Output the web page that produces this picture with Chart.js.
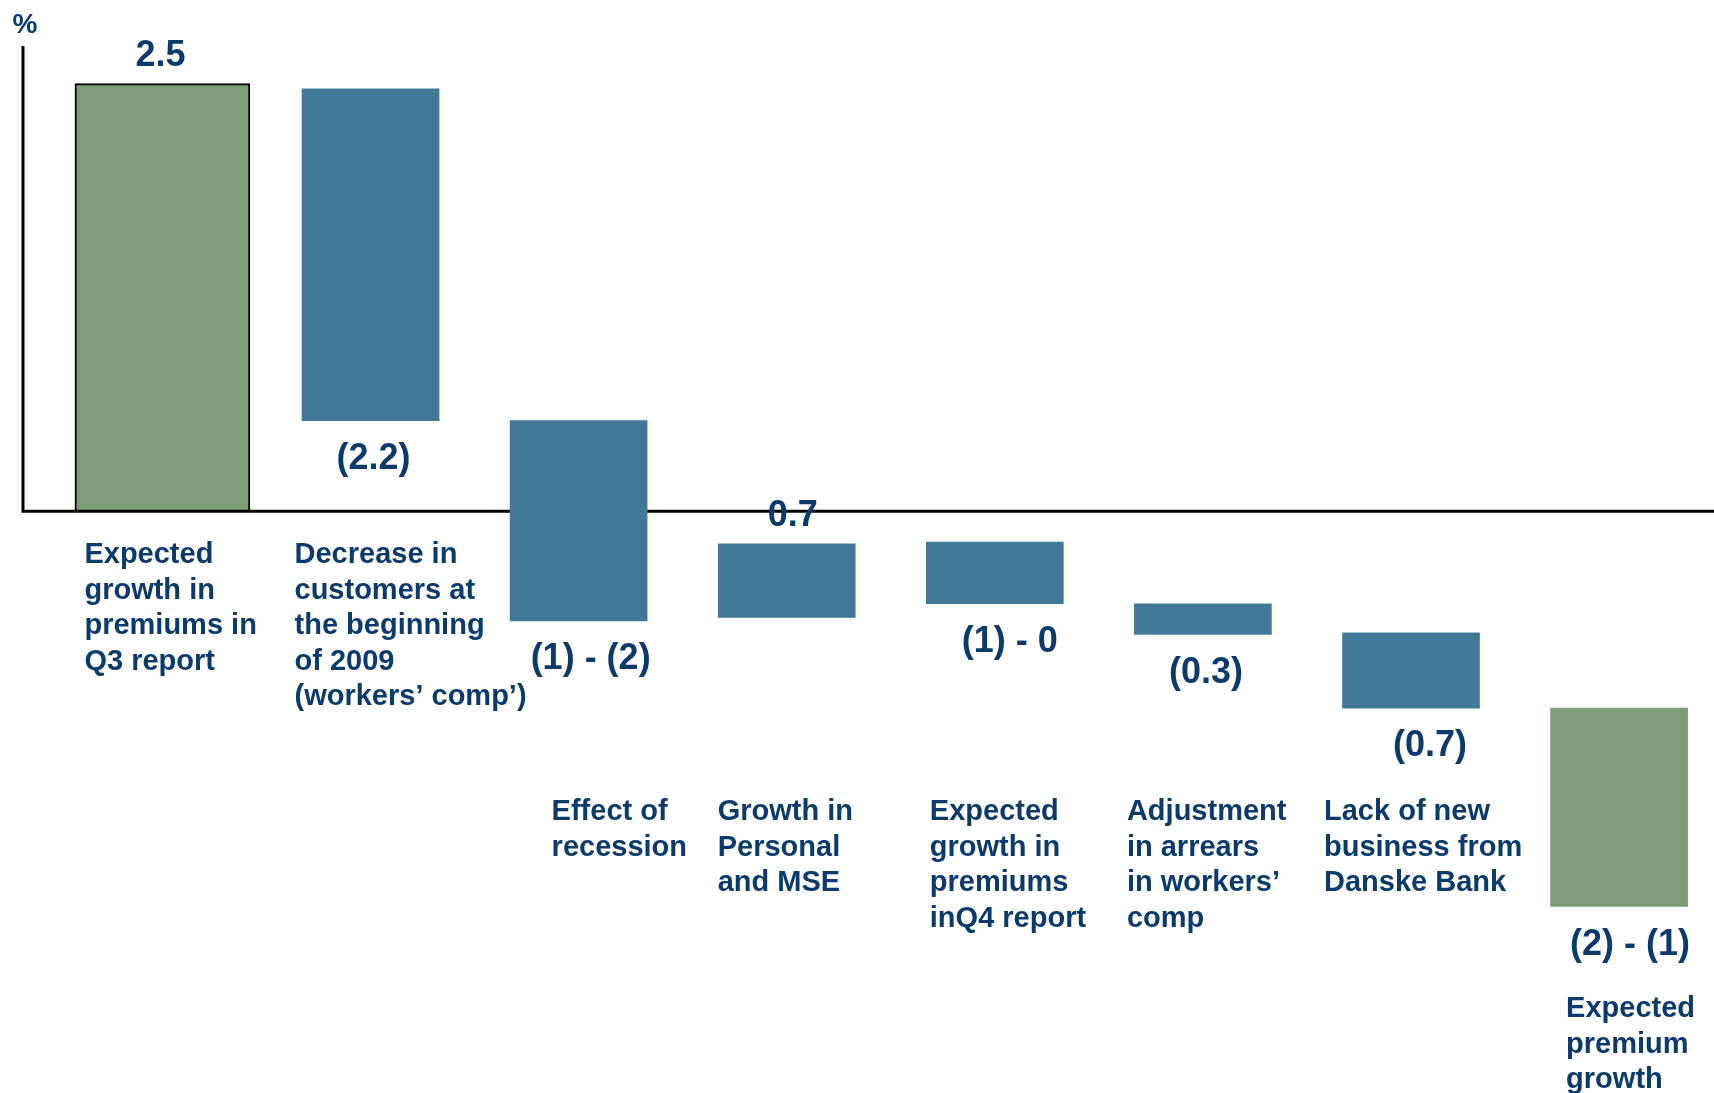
<!DOCTYPE html>
<html>
<head>
<meta charset="utf-8">
<script src="https://cdn.jsdelivr.net/npm/chart.js@4.4.1/dist/chart.umd.min.js"></script>
<style>
    html, body { margin: 0; padding: 0; background: #ffffff; }
    #wrap { position: relative; width: 1714px; height: 1093px; }
</style>
</head>
<body>
<div id="wrap"><canvas id="premieChart"></canvas></div>
<script>
// category texts, wrapped like on the slide
const categories = [
    ["Expected", "growth in", "premiums in", "Q3 report"],
    ["Decrease in", "customers at", "the beginning", "of 2009", "(workers’ comp’)"],
    ["Effect of", "recession"],
    ["Growth in", "Personal", "and MSE"],
    ["Expected", "growth in", "premiums", "inQ4 report"],
    ["Adjustment", "in arrears", "in workers’", "comp"],
    ["Lack of new", "business from", "Danske Bank"],
    ["Expected", "premium", "growth"]
];

// value labels as printed on the bars
const valueLabels = ["2.5", "(2.2)", "(1) - (2)", "0.7", "(1) - 0", "(0.3)", "(0.7)", "(2) - (1)"];

// bar extents [bottom, top] in %
const startBar = [[0, 2.5]];
const stepBars = [[0.53, 2.47], [-0.64, 0.53], [-0.62, -0.19], [-0.54, -0.18], [-0.72, -0.54], [-1.15, -0.71]];
const endBar = [[-2.31, -1.15]];

// where the value label sits and small nudges to match the slide
const valueSide = ["above", "below", "below", "above", "below", "below", "below", "below"];
const valueNudgeX = [-2, 3, 12, 6, 15, 3, 19, 11];
const catNudgeX = [-78, -76, -27, -69, -65, -76, -87, -53];
const catBaseline = [563, 563, 820, 820, 820, 820, 820, 1017];

const navy = '#0b3a6b';
const blue = '#417a98';
const green = '#7e9c76';
const fontFam = '"Liberation Sans", Arial, Helvetica, sans-serif';

const assenPlugin = {
    id: 'assenPlugin',
    beforeDatasetsDraw: (chart) => {
        const { ctx, chartArea: { left, top }, scales: { y } } = chart;
        const zeroY = y.getPixelForValue(0);

        ctx.save();
        ctx.strokeStyle = '#000000';
        ctx.lineWidth = 3;
        ctx.beginPath();
        ctx.moveTo(left, top);
        ctx.lineTo(left, zeroY);
        ctx.lineTo(chart.width, zeroY);
        ctx.stroke();

        ctx.fillStyle = navy;
        ctx.font = 'bold 28px ' + fontFam;
        ctx.textAlign = 'center';
        ctx.textBaseline = 'alphabetic';
        ctx.fillText('%', left + 2, 33);
        ctx.restore();
    }
};

const labelPlugin = {
    id: 'labelPlugin',
    afterDatasetsDraw: (chart) => {
        const { ctx } = chart;
        ctx.save();
        ctx.fillStyle = navy;
        ctx.textBaseline = 'alphabetic';

        chart.data.datasets.forEach((ds, d) => {
            const meta = chart.getDatasetMeta(d);
            meta.data.forEach((bar, j) => {
                const k = ds.data[j].x;
                const topY = Math.min(bar.y, bar.base);
                const bottomY = Math.max(bar.y, bar.base);

                // value label
                ctx.font = 'bold 36px ' + fontFam;
                ctx.textAlign = 'center';
                const vy = valueSide[k] === 'above' ? topY - 18 : bottomY + 48;
                ctx.fillText(valueLabels[k], bar.x + valueNudgeX[k], vy);

                // category label
                ctx.font = 'bold 29px ' + fontFam;
                ctx.textAlign = 'left';
                categories[k].forEach((line, n) => {
                    ctx.fillText(line, bar.x + catNudgeX[k], catBaseline[k] + n * 35.5);
                });
            });
        });
        ctx.restore();
    }
};

const ctx = document.getElementById('premieChart').getContext('2d');

const premieChart = new Chart(ctx, {
    type: 'bar',
    data: {
        datasets: [
            {
                label: 'Q3 report',
                data: startBar.map((v, i) => ({ x: i, y: v })),
                backgroundColor: green,
                borderColor: '#000000',
                borderWidth: 2,
                borderSkipped: false,
                barThickness: 175
            },
            {
                label: 'Changes',
                data: stepBars.map((v, i) => ({ x: i + 1, y: v })),
                backgroundColor: blue,
                borderWidth: 0,
                barThickness: 137
            },
            {
                label: 'Expected',
                data: endBar.map((v, i) => ({ x: i + 7, y: v })),
                backgroundColor: green,
                borderWidth: 0,
                barThickness: 137
            }
        ]
    },
    options: {
        responsive: true,
        maintainAspectRatio: false,
        animation: false,
        events: [],
        datasets: { bar: { grouped: false } },
        layout: { padding: { left: 23, top: 46, right: 0, bottom: 0 } },
        plugins: {
            legend: { display: false },
            tooltip: { enabled: false }
        },
        scales: {
            x: {
                type: 'linear',
                display: false,
                offset: false,
                min: -0.67,
                max: 7.456
            },
            y: {
                type: 'linear',
                display: false,
                min: -3.4,
                max: 2.72
            }
        }
    },
    plugins: [assenPlugin, labelPlugin]
});
</script>
</body>
</html>
